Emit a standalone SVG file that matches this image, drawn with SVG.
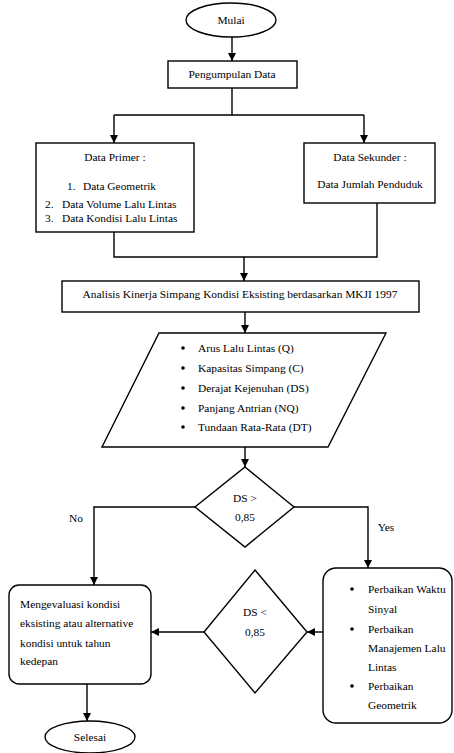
<svg xmlns="http://www.w3.org/2000/svg" width="454" height="753" viewBox="0 0 454 753">
<style>
.s{fill:#fff;stroke:#000;stroke-width:1.4}
.t{font-family:'Liberation Serif','DejaVu Serif',serif;font-size:11.4px;fill:#000}
.c{text-anchor:middle}
.l{fill:none;stroke:#000;stroke-width:1.4}
</style>
<defs>
<marker id="a" viewBox="0 0 10 10" refX="10" refY="5" markerWidth="8" markerHeight="8" markerUnits="userSpaceOnUse" orient="auto">
<path d="M0,0 L10,5 L0,10 z" fill="#000"/>
</marker>
</defs>
<rect width="454" height="753" fill="#fff"/>
<g id="connectors">
<path class="l" d="M232,37 V61" marker-end="url(#a)"/>
<path class="l" d="M232,88 V115"/>
<path class="l" d="M114,115 H364"/>
<path class="l" d="M114,115 V143" marker-end="url(#a)"/>
<path class="l" d="M364,115 V143" marker-end="url(#a)"/>
<path class="l" d="M114,232 V257 H377 V203"/>
<path class="l" d="M244,257 V281" marker-end="url(#a)"/>
<path class="l" d="M245,312 V333" marker-end="url(#a)"/>
<path class="l" d="M245,447 V467" marker-end="url(#a)"/>
<path class="l" d="M195,507 H94 V585" marker-end="url(#a)"/>
<path class="l" d="M294,507 H368 V568" marker-end="url(#a)"/>
<path class="l" d="M323,632 H307" marker-end="url(#a)"/>
<path class="l" d="M204,632 H151" marker-end="url(#a)"/>
<path class="l" d="M87,684 V721" marker-end="url(#a)"/>
<text class="t c" x="76" y="522">No</text>
<text class="t c" x="386" y="531">Yes</text>
</g>
<g id="mulai">
<ellipse class="s" cx="231" cy="20" rx="45" ry="17"/>
<text class="t c" x="231" y="24">Mulai</text>
</g>
<g id="pengumpulan">
<rect class="s" x="168" y="61" width="129" height="27"/>
<text class="t c" x="232" y="78">Pengumpulan Data</text>
</g>
<g id="primer">
<rect class="s" x="36" y="143" width="158" height="89"/>
<text class="t c" x="115" y="161">Data Primer :</text>
<text class="t" x="67" y="190">1.</text><text class="t" x="83" y="190">Data Geometrik</text>
<text class="t" x="45" y="208">2.</text><text class="t" x="62" y="208">Data Volume Lalu Lintas</text>
<text class="t" x="45" y="222">3.</text><text class="t" x="62" y="222">Data Kondisi Lalu Lintas</text>
</g>
<g id="sekunder">
<rect class="s" x="304" y="143" width="131" height="60"/>
<text class="t c" x="370" y="161">Data Sekunder :</text>
<text class="t c" x="370" y="188">Data Jumlah Penduduk</text>
</g>
<g id="analisis">
<rect class="s" x="62" y="281" width="357" height="31"/>
<text class="t c" x="240" y="298">Analisis Kinerja Simpang Kondisi Eksisting berdasarkan MKJI 1997</text>
</g>
<g id="parameter">
<polygon class="s" points="159,333 386,333 328,447 102,447"/>
<circle cx="183" cy="348" r="1.8"/><text class="t" x="198" y="352">Arus Lalu Lintas (Q)</text>
<circle cx="183" cy="368" r="1.8"/><text class="t" x="198" y="372">Kapasitas Simpang (C)</text>
<circle cx="183" cy="388" r="1.8"/><text class="t" x="198" y="392">Derajat Kejenuhan (DS)</text>
<circle cx="183" cy="408" r="1.8"/><text class="t" x="198" y="412">Panjang Antrian (NQ)</text>
<circle cx="183" cy="427" r="1.8"/><text class="t" x="198" y="431">Tundaan Rata-Rata (DT)</text>
</g>
<g id="ds1">
<polygon class="s" points="245,467 294,507 245,547 195,507"/>
<text class="t c" x="245" y="502">DS &gt;</text>
<text class="t c" x="245" y="521">0,85</text>
</g>
<g id="perbaikan">
<rect class="s" x="323" y="568" width="129" height="155" rx="13"/>
<circle cx="352" cy="589" r="1.8"/><text class="t" x="368" y="593">Perbaikan Waktu</text>
<text class="t" x="368" y="613">Sinyal</text>
<circle cx="352" cy="629" r="1.8"/><text class="t" x="368" y="633">Perbaikan</text>
<text class="t" x="368" y="652">Manajemen Lalu</text>
<text class="t" x="368" y="671">Lintas</text>
<circle cx="352" cy="686" r="1.8"/><text class="t" x="368" y="690">Perbaikan</text>
<text class="t" x="368" y="709">Geometrik</text>
</g>
<g id="ds2">
<polygon class="s" points="255,570 307,632 255,693 204,632"/>
<text class="t c" x="255" y="616">DS &lt;</text>
<text class="t c" x="255" y="636">0,85</text>
</g>
<g id="evaluasi">
<rect class="s" x="9" y="585" width="142" height="99" rx="10"/>
<text class="t" x="20" y="608">Mengevaluasi kondisi</text>
<text class="t" x="20" y="627">eksisting atau alternative</text>
<text class="t" x="20" y="647">kondisi untuk tahun</text>
<text class="t" x="20" y="665">kedepan</text>
</g>
<g id="selesai">
<ellipse class="s" cx="90" cy="737" rx="45" ry="16"/>
<text class="t c" x="90" y="741">Selesai</text>
</g>
</svg>
